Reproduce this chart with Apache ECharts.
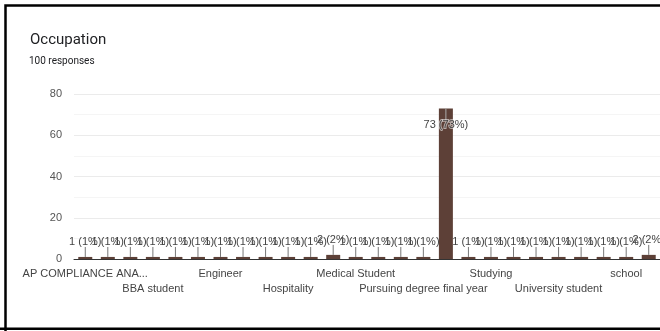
<!DOCTYPE html>
<html>
<head>
<meta charset="utf-8">
<script src="https://cdn.jsdelivr.net/npm/echarts@6/dist/echarts.min.js"></script>
<style>
html,body{margin:0;padding:0;background:#fff;}
#c{width:660px;height:331px;}
</style>
</head>
<body>
<div id="c"></div>
<script>
var categories = [
  'AP COMPLIANCE ANALYST IN FINANCE', 'Accountant', 'Architect', 'BBA student', 'Banker', 'Business',
  'Engineer', 'Freelancer', 'Graduate', 'Hospitality', 'Housewife', 'Job',
  'Medical Student', 'Nurse', 'Private job', 'Pursuing degree final year', 'Student', 'Student ',
  'Studying', 'Teacher', 'Unemployed', 'University student', 'Working', 'intern',
  'school', 'student'
];
var counts = [1,1,1,1,1,1,1,1,1,1,1,2,1,1,1,1,73,1,1,1,1,1,1,1,1,2];
var totalResponses = 100;
var yTicks = [0, 20, 40, 60, 80];

var chart = echarts.init(document.getElementById('c'), null, {renderer: 'canvas'});
var gridLeft = 74, gridTop = 94, gridBottom = 72;

function fmt(v) { return v.length > 26 ? v.slice(0, 17) + '...' : v; }
function xAxisRow(rowOffset, margin, showLine) {
  return {
    type: 'category',
    data: categories,
    position: 'bottom',
    axisTick: {show: false},
    axisLine: {show: showLine, lineStyle: {color: '#333', width: 1}},
    splitLine: {show: false},
    axisLabel: {
      interval: function (i) { return i % 6 === rowOffset; },
      showMinLabel: true,
      showMaxLabel: true,
      hideOverlap: false,
      fontFamily: 'Arial',
      fontSize: 11,
      color: '#444',
      margin: margin,
      formatter: fmt
    }
  };
}

chart.setOption({
  animation: false,
  title: [
    {text: 'Occupation', left: 25, top: 28, textStyle: {fontFamily: 'Roboto', fontSize: 15, fontWeight: 'normal', color: '#202124'}},
    {text: totalResponses + ' responses', left: 24, top: 51, textStyle: {fontFamily: 'Roboto', fontSize: 10, fontWeight: 'normal', color: '#202124'}}
  ],
  graphic: [
    {type: 'polyline', shape: {points: [[5.5, 331], [5.5, 5.5], [660, 5.5]]}, style: {stroke: '#000', lineWidth: 2.5, fill: null}, z: 100},
    {type: 'line', shape: {x1: 0, y1: 328.8, x2: 660, y2: 328.8}, style: {stroke: '#000', lineWidth: 2.5}, z: 100}
  ],
  grid: {left: gridLeft, top: gridTop, width: 589, bottom: gridBottom, containLabel: false},
  xAxis: [xAxisRow(0, 9, true), xAxisRow(3, 24, false)],
  yAxis: {
    type: 'value',
    min: 0, max: 80, interval: 20,
    axisLine: {show: false},
    axisTick: {show: false},
    axisLabel: {fontFamily: 'Arial', fontSize: 11, color: '#555', margin: 12},
    splitLine: {lineStyle: {color: '#ebebeb'}},
    minorTick: {show: false, splitNumber: 2},
    minorSplitLine: {show: true, lineStyle: {color: '#f5f5f5'}}
  },
  series: [
    {
      type: 'bar',
      xAxisIndex: 0,
      data: counts,
      barWidth: 14,
      itemStyle: {color: '#5d4037'},
      silent: true
    },
    {
      type: 'custom',
      xAxisIndex: 0,
      data: counts.map(function (v, i) { return [i, v]; }),
      z: 10,
      renderItem: function (params, api) {
        var i = api.value(0), v = api.value(1);
        var p = api.coord([i, v]);
        var text = v + ' (' + Math.round(v / totalResponses * 100) + '%)';
        var flip = p[1] - 22 < gridTop;
        if (flip) {
          return {type: 'group', children: [
            {type: 'line', shape: {x1: p[0], y1: p[1], x2: p[0], y2: p[1] + 12}, style: {stroke: '#aaa', lineWidth: 1}},
            {type: 'text', style: {text: text, x: p[0], y: p[1] + 17, align: 'center', verticalAlign: 'middle',
              font: '11px Arial', fill: '#444', stroke: 'rgba(255,255,255,0.55)', lineWidth: 2}}
          ]};
        }
        return {type: 'group', children: [
          {type: 'line', shape: {x1: p[0], y1: p[1], x2: p[0], y2: p[1] - 10}, style: {stroke: '#777', lineWidth: 1}},
          {type: 'text', style: {text: text, x: p[0], y: p[1] - 15, align: 'center', verticalAlign: 'middle',
            font: '11px Arial', fill: '#444'}}
        ]};
      }
    }
  ]
});
</script>
</body>
</html>
